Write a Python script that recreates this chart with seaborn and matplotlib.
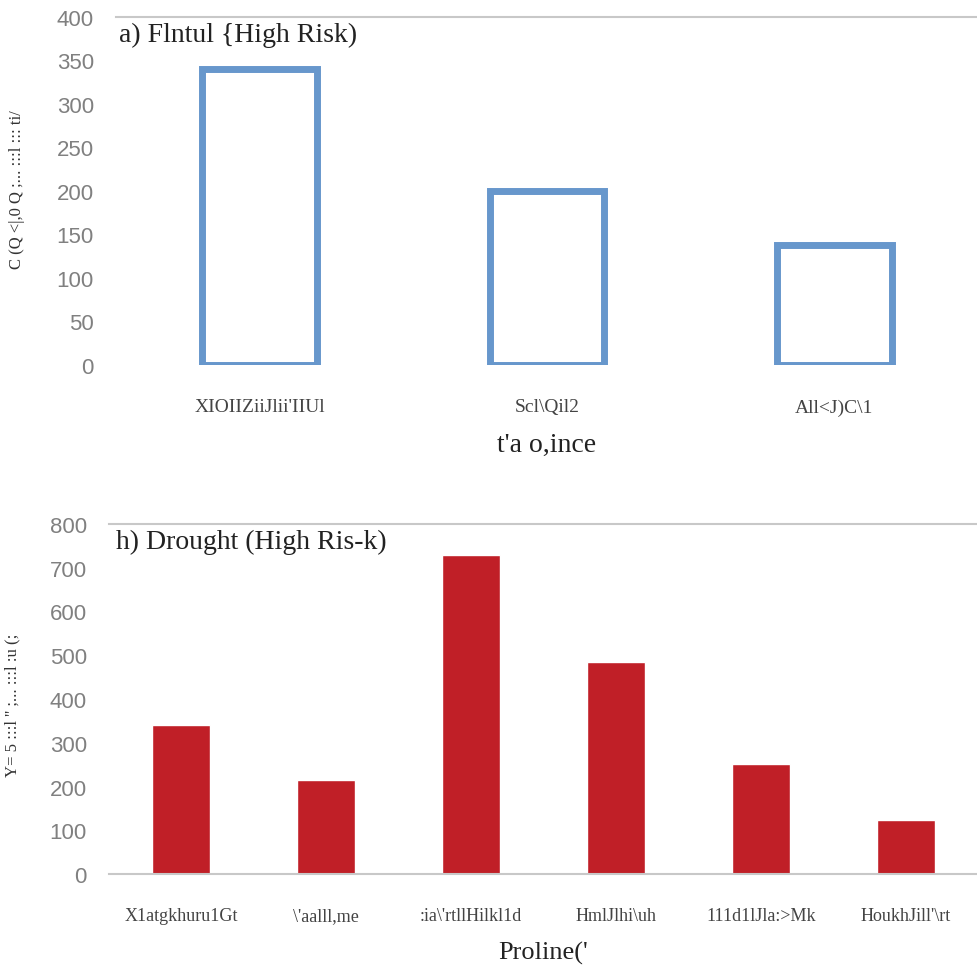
import pandas as pd
import matplotlib
matplotlib.use("Agg")
import matplotlib.pyplot as plt
import seaborn as sns

# === DATA ===
flood_prov = ["XIOIIZiiJlii'IIUl", "Scl\\Qil2", "All<J)C\\1"]
flood_vals = [340, 200, 138]

drought_prov = ["X1atgkhuru1Gt", "\\'aalll,me", ":ia\\'rtllHilkl1d",
                "HmlJlhi\\uh", "111d1lJla:>Mk", "HoukhJill'\\rt"]
drought_vals = [340, 215, 730, 485, 252, 123]

flood_ticks = [0, 50, 100, 150, 200, 250, 300, 350, 400]
drought_ticks = [0, 100, 200, 300, 400, 500, 600, 700, 800]

df_flood = pd.DataFrame({"prov": flood_prov, "val": flood_vals})
df_drought = pd.DataFrame({"prov": drought_prov, "val": drought_vals})

# === STYLE ===
sns.set_style("white")
plt.rcParams["font.family"] = ["Liberation Serif", "DejaVu Serif"]

blue = "#6797cc"
red = "#c01f27"

fig = plt.figure(figsize=(9.78, 9.70), dpi=100)
ax1 = fig.add_axes([0.1186, 0.6227, 0.8814, 0.3588])
ax2 = fig.add_axes([0.1115, 0.0979, 0.8885, 0.3609])

# === a) flood ===
sns.barplot(data=df_flood, x="prov", y="val", ax=ax1, width=0.4,
            facecolor="white", edgecolor=blue, linewidth=5)
ax1.set_ylim(0, 400)
ax1.set_yticks(flood_ticks)
ax1.text(0.004, 0.951, "a) Flntul {High Risk)", transform=ax1.transAxes,
         fontsize=20, va="center", ha="left", color="#222222")
ax1.set_xlabel("t'a o,ince", fontsize=20, labelpad=12, color="#222222")
ax1.set_ylabel("C (Q <|,0 Q ;... :::l ::: ti/", fontsize=12, color="#333333")
ax1.yaxis.set_label_coords(-0.106, 0.506)

# === b) drought ===
sns.barplot(data=df_drought, x="prov", y="val", ax=ax2, width=0.4,
            color=red, saturation=1)
ax2.set_ylim(0, 800)
ax2.set_yticks(drought_ticks)
ax2.text(0.008, 0.949, "h) Drought (High Ris-k)", transform=ax2.transAxes,
         fontsize=20, va="center", ha="left", color="#222222")
ax2.set_xlabel("Proline('", fontsize=19, labelpad=12, color="#222222")
ax2.set_ylabel("Y= 5 :::l '' ;... :::l :u (;", fontsize=12, color="#333333")
ax2.yaxis.set_label_coords(-0.102, 0.486)

for ax in (ax1, ax2):
    for s in ("left", "right", "bottom"):
        ax.spines[s].set_visible(False)
    ax.spines["top"].set_color("#c8c8c8")
    ax.spines["top"].set_linewidth(1.5)
    ax.tick_params(axis="y", length=0, pad=16, labelsize=16, labelcolor="#808080")
    ax.tick_params(axis="x", length=0, pad=24, labelcolor="#444444")
    for lab in ax.get_yticklabels():
        lab.set_fontfamily(["Liberation Sans", "DejaVu Sans"])

ax1.tick_params(axis="x", labelsize=14)
ax2.tick_params(axis="x", labelsize=13)

ax2.spines["bottom"].set_visible(True)
ax2.spines["bottom"].set_color("#c8c8c8")
ax2.spines["bottom"].set_linewidth(1.5)

fig.savefig("out.png", dpi=100)
